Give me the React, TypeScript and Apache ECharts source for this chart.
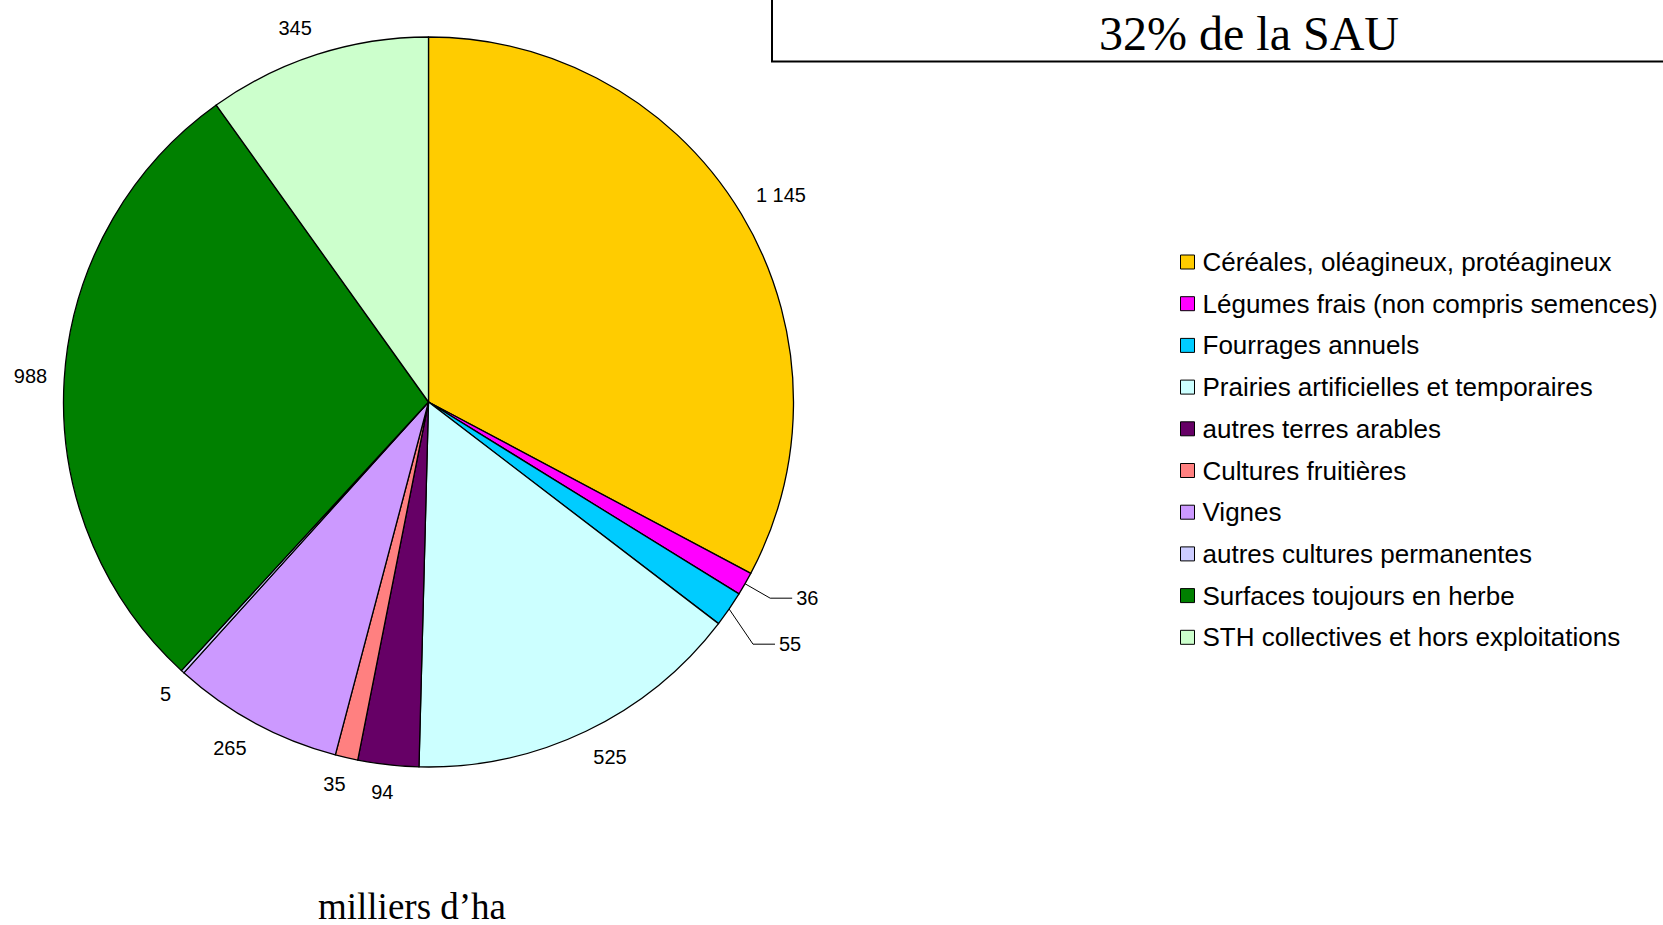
import React, { useEffect, useRef } from "react";
import * as echarts from "echarts";

const categories = [
  "Céréales, oléagineux, protéagineux",
  "Légumes frais (non compris semences)",
  "Fourrages annuels",
  "Prairies artificielles et temporaires",
  "autres terres arables",
  "Cultures fruitières",
  "Vignes",
  "autres cultures permanentes",
  "Surfaces toujours en herbe",
  "STH collectives et hors exploitations",
];
const values = [1145, 36, 55, 525, 94, 35, 265, 5, 988, 345];
const colors = [
  "#FFCC00",
  "#FF00FF",
  "#00CCFF",
  "#CCFFFF",
  "#660066",
  "#FF8080",
  "#CC99FF",
  "#CCCCFF",
  "#008000",
  "#CCFFCC",
];
const leaderItems = ["Légumes frais (non compris semences)", "Fourrages annuels"];
const titleText = "32% de la SAU";
const unitText = "milliers d’ha";

const CX = 428.5;
const CY = 402;
const R = 365;
const LABEL_GAP = 17;
const LEADER_LEN = 29;
const LEADER_H = 22;
const LEADER_SPACING = 46;

const fmt = (v: number) => String(v).replace(/\B(?=(\d{3})+(?!\d))/g, " ");

export default function App() {
  const ref = useRef<HTMLDivElement>(null);
  useEffect(() => {
    if (!ref.current) return;
    const chart = echarts.init(ref.current, undefined, { renderer: "svg" });
    const total = values.reduce((a, b) => a + b, 0);
    const midAngle = (i: number) => {
      let before = 0;
      for (let k = 0; k < i; k++) before += values[k];
      return ((before + values[i] / 2) / total) * 2 * Math.PI;
    };
    // leader label elbows: on the mid-angle ray, stacked downward to avoid overlap
    const elbows: Record<number, [number, number]> = {};
    let prevY = -Infinity;
    categories.forEach((name, i) => {
      if (!leaderItems.includes(name)) return;
      const a = midAngle(i);
      const ex = CX + (R + LEADER_LEN) * Math.sin(a);
      let ey = CY - (R + LEADER_LEN) * Math.cos(a);
      ey = Math.max(ey, prevY + LEADER_SPACING);
      prevY = ey;
      elbows[i] = [ex, ey];
    });
    const f = (v: number) => Math.sign(v) * Math.min(1, Math.abs(v) * 3.3);
    chart.setOption({
      animation: false,
      backgroundColor: "#ffffff",
      legend: {
        orient: "vertical",
        left: 1180,
        top: 247,
        padding: 0,
        itemWidth: 14,
        itemHeight: 14,
        itemGap: 11.7,
        icon: "rect",
        selectedMode: false,
        data: categories,
        itemStyle: { borderColor: "#000", borderWidth: 1 },
        textStyle: {
          fontFamily: "'Liberation Sans', Arial, sans-serif",
          fontSize: 26,
          lineHeight: 30,
          color: "#000",
          padding: [0, 0, 0, 3],
        },
      },
      graphic: [
        {
          type: "rect",
          shape: { x: 772, y: -10, width: 960, height: 71.5 },
          style: { fill: "none", stroke: "#000", lineWidth: 2 },
        },
        {
          type: "text",
          x: 1249,
          y: 33,
          style: {
            text: titleText,
            font: "48px 'Liberation Serif', 'Times New Roman', serif",
            fill: "#000",
            align: "center",
            verticalAlign: "middle",
          },
        },
        {
          type: "text",
          x: 412,
          y: 906,
          style: {
            text: unitText,
            font: "37px 'Liberation Serif', 'Times New Roman', serif",
            fill: "#000",
            align: "center",
            verticalAlign: "middle",
          },
        },
      ],
      series: [
        {
          type: "pie",
          center: [CX, CY],
          radius: R,
          startAngle: 90,
          clockwise: true,
          avoidLabelOverlap: false,
          itemStyle: { borderColor: "#000", borderWidth: 1.3 },
          label: {
            show: true,
            position: "outside",
            formatter: (p: any) => fmt(p.value),
            color: "#000",
            fontSize: 20,
            fontFamily: "'Liberation Sans', Arial, sans-serif",
          },
          labelLine: { show: false },
          labelLayout: (p: any) => {
            const i = p.dataIndex;
            const mid = midAngle(i);
            const dx = Math.sin(mid);
            const dy = -Math.cos(mid);
            const w = p.labelRect.width;
            const h = p.labelRect.height;
            if (elbows[i]) {
              const [bx, by] = elbows[i];
              const ex = CX + R * dx;
              const ey = CY + R * dy;
              const endX = bx + LEADER_H;
              return {
                x: endX + 4 + w / 2,
                y: by,
                align: "center",
                verticalAlign: "middle",
                labelLinePoints: [
                  [ex, ey],
                  [bx, by],
                  [endX, by],
                ],
              };
            }
            const rx = CX + (R + LABEL_GAP) * dx;
            const ry = CY + (R + LABEL_GAP) * dy;
            return {
              x: rx + (f(dx) * w) / 2,
              y: ry + (f(dy) * h) / 2,
              align: "center",
              verticalAlign: "middle",
            };
          },
          data: categories.map((name, i) => ({
            name,
            value: values[i],
            itemStyle: { color: colors[i] },
            labelLine: leaderItems.includes(name)
              ? { show: true, length: 10, length2: 10, lineStyle: { color: "#000", width: 1 } }
              : { show: false },
          })),
        },
      ],
    });
    return () => chart.dispose();
  }, []);
  return (
    <div
      ref={ref}
      style={{ position: "absolute", left: 0, top: 0, width: 1663, height: 925 }}
    />
  );
}
